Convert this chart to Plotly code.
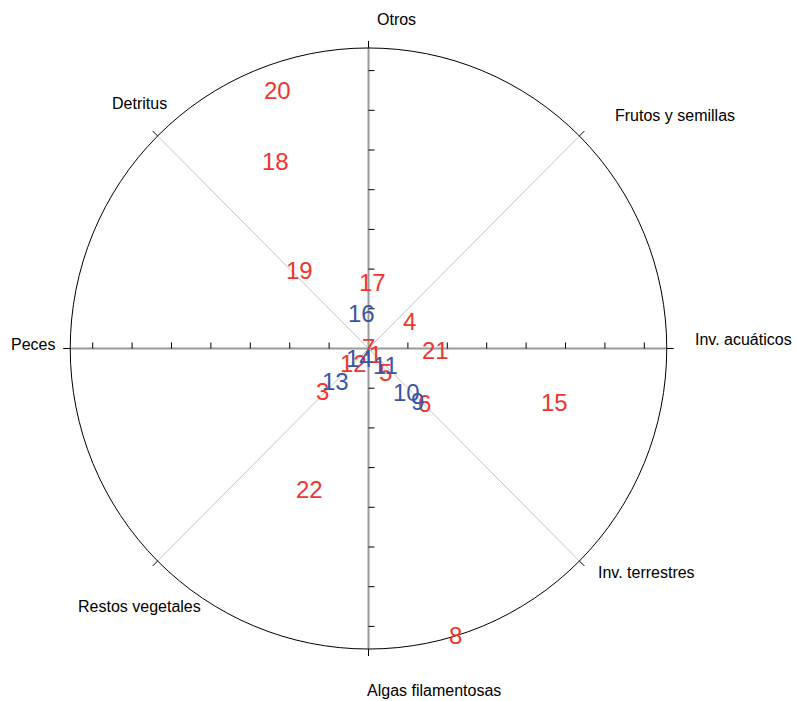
import numpy as np
import plotly.graph_objects as go

# Diet categories placed around the circle (counter-clockwise from the east)
categories = ["Inv. acuáticos", "Frutos y semillas", "Otros", "Detritus",
              "Peces", "Restos vegetales", "Algas filamentosas", "Inv. terrestres"]

# Sample coordinates in the diet plane
point_labels = ["1", "3", "4", "5", "6", "7", "8", "9", "10", "11", "12",
                "13", "14", "15", "16", "17", "18", "19", "20", "21", "22"]
point_x = [0.019, -0.117, 0.105, 0.044, 0.141, -0.001, 0.222, 0.124, 0.096, 0.044, -0.039,
           -0.085, -0.024, 0.471, -0.019, 0.010, -0.235, -0.175, -0.232, 0.171, -0.149]
point_y = [-0.014, -0.108, 0.068, -0.061, -0.139, 0.003, -0.724, -0.134, -0.110, -0.044, -0.037,
           -0.083, -0.024, -0.136, 0.087, 0.167, 0.471, 0.196, 0.650, -0.006, -0.355]
point_group = ["A", "A", "A", "A", "A", "A", "A", "B", "B", "B", "A",
               "B", "B", "A", "B", "A", "A", "A", "A", "A", "A"]

tick_values = [0.1, 0.2, 0.3, 0.4, 0.5, 0.6, 0.7]
radius = 0.757

RED = "#F0352E"
BLUE = "#3A54A6"
FONT = "Liberation Sans, Arial, sans-serif"

W, H = 797, 701
cx_px, cy_px = 368.5, 348.5
sx, sy = 394.0, 397.0  # pixels per unit
x_range = [(0 - cx_px) / sx, (W - cx_px) / sx]
y_range = [(cy_px - H) / sy, (cy_px - 0) / sy]

fig = go.Figure()
shapes = []

# outer circle
shapes.append(dict(type="circle", xref="x", yref="y", x0=-radius, x1=radius,
                   y0=-radius, y1=radius, line=dict(color="black", width=1)))

# spokes: diagonals light grey, main axes darker grey
ext = 7.0  # pixel length of the black mark outside the circle
for k in range(8):
    ang = np.pi * k / 4
    c, s = np.cos(ang), np.sin(ang)
    main = (k % 2 == 0)
    shapes.append(dict(type="line", xref="x", yref="y", x0=0, y0=0,
                       x1=radius * c, y1=radius * s,
                       line=dict(color="#9a9a9a" if main else "#c4c4c4",
                                 width=2 if main else 1), layer="below"))
    shapes.append(dict(type="line", xref="x", yref="y",
                       x0=radius * c, y0=radius * s,
                       x1=(radius * sx + ext) * c / sx, y1=(radius * sy + ext) * s / sy,
                       line=dict(color="black", width=1)))

# tick marks on the horizontal (pointing up) and vertical (pointing right) axes
tl = 6.0
tx, ty = [], []
for v in tick_values:
    for sgn in (-1, 1):
        tx += [sgn * v, sgn * v, None]
        ty += [0, tl / sy, None]
        tx += [0, tl / sx, None]
        ty += [sgn * v, sgn * v, None]
fig.add_trace(go.Scatter(x=tx, y=ty, mode="lines", line=dict(color="black", width=1),
                         hoverinfo="skip", showlegend=False))

annotations = []

# sample numbers, centred on their coordinates
for lab, x, y, g in zip(point_labels, point_x, point_y, point_group):
    annotations.append(dict(x=x, y=y, xref="x", yref="y", text=lab, showarrow=False,
                            xanchor="center", yanchor="middle",
                            font=dict(family=FONT, size=24,
                                      color=RED if g == "A" else BLUE)))

# category label anchors (left edge of text)
label_pos = {
    "Inv. acuáticos": (0.823, 0.022),
    "Frutos y semillas": (0.621, 0.588),
    "Otros": (0.0165, 0.829),
    "Detritus": (-0.656, 0.616),
    "Peces": (-0.912, 0.011),
    "Restos vegetales": (-0.742, -0.651),
    "Algas filamentosas": (-0.009, -0.862),
    "Inv. terrestres": (0.577, -0.563),
}
for name in categories:
    x, y = label_pos[name]
    annotations.append(dict(x=x, y=y, xref="x", yref="y", text=name, showarrow=False,
                            xanchor="left", yanchor="middle",
                            font=dict(family=FONT, size=16, color="black")))

fig.update_layout(
    width=W, height=H, autosize=False,
    margin=dict(l=0, r=0, t=0, b=0, pad=0),
    paper_bgcolor="white", plot_bgcolor="white",
    shapes=shapes, annotations=annotations,
    xaxis=dict(range=x_range, visible=False, fixedrange=True),
    yaxis=dict(range=y_range, visible=False, fixedrange=True),
    showlegend=False,
)

fig.write_html("out.html")
